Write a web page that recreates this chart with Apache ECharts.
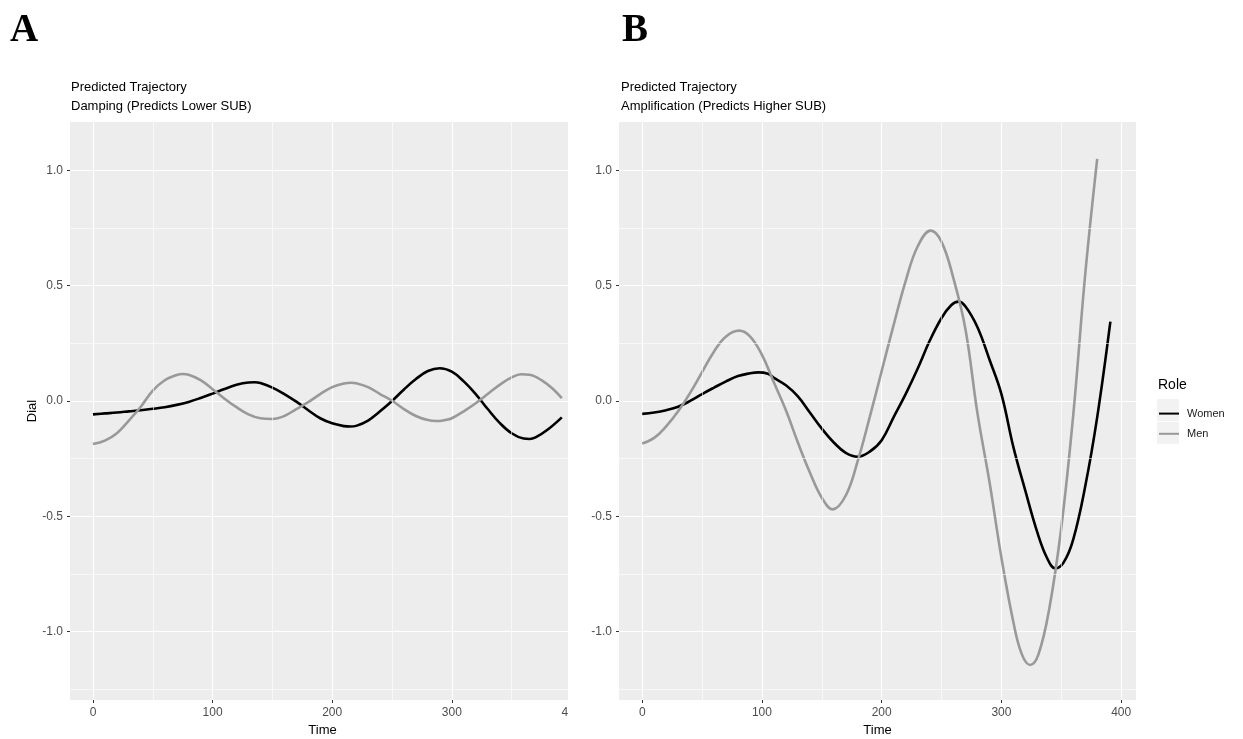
<!DOCTYPE html>
<html><head><meta charset="utf-8">
<script src="https://cdn.jsdelivr.net/npm/echarts@6/dist/echarts.min.js"></script>
<style>html,body{margin:0;padding:0;background:#fff}#c{width:1243px;height:739px}</style>
</head><body><div id="c"></div>
<script>
// ---- data ----
const timeTicks = [0, 100, 200, 300, 400];
const dialTicks = [-1.0, -0.5, 0.0, 0.5, 1.0];
const minorTime = [50, 150, 250, 350];
const minorDial = [-1.25, -0.75, -0.25, 0.25, 0.75];
const seriesNames = ['Women', 'Men'];

// Panel A: Damping
const timeAWomen = [0, 10, 20, 30, 40, 50, 60, 70, 80, 90, 100, 110, 120, 130, 135, 140, 150, 160, 170, 180, 190, 200, 210, 215, 220, 230, 240, 250, 260, 270, 280, 290, 300, 310, 320, 330, 340, 350, 360, 365, 370, 380, 392];
const dialAWomen = [-0.058, -0.054, -0.05, -0.045, -0.04, -0.034, -0.027, -0.017, -0.004, 0.013, 0.032, 0.052, 0.07, 0.08, 0.081, 0.078, 0.058, 0.03, -0.003, -0.04, -0.075, -0.097, -0.109, -0.111, -0.108, -0.085, -0.045, 0.0, 0.05, 0.095, 0.13, 0.142, 0.127, 0.085, 0.03, -0.035, -0.095, -0.14, -0.163, -0.165, -0.158, -0.125, -0.071];
const timeAMen = [0, 10, 20, 30, 40, 50, 60, 70, 75, 80, 90, 100, 110, 120, 130, 140, 150, 160, 170, 180, 190, 200, 210, 216, 220, 230, 240, 250, 260, 270, 280, 287, 295, 300, 310, 320, 330, 340, 350, 358, 365, 375, 385, 392];
const dialAMen = [-0.187, -0.172, -0.14, -0.085, -0.025, 0.045, 0.09, 0.113, 0.117, 0.114, 0.09, 0.051, 0.01, -0.027, -0.058, -0.075, -0.078, -0.065, -0.035, -0.005, 0.03, 0.06, 0.076, 0.079, 0.077, 0.06, 0.03, 0.001, -0.035, -0.065, -0.083, -0.087, -0.082, -0.075, -0.045, -0.01, 0.03, 0.07, 0.102, 0.116, 0.114, 0.09, 0.05, 0.012];

// Panel B: Amplification
const timeBWomen = [0, 10, 20, 30, 40, 50, 60, 70, 80, 90, 97, 105, 110, 120, 130, 140, 150, 160, 170, 180, 190, 200, 210, 220, 230, 240, 250, 258, 264, 270, 280, 290, 300, 310, 320, 330, 338, 345, 352, 360, 370, 380, 391];
const dialBWomen = [-0.056, -0.05, -0.04, -0.025, 0.0, 0.03, 0.058, 0.085, 0.108, 0.12, 0.124, 0.118, 0.1, 0.068, 0.02, -0.05, -0.12, -0.18, -0.225, -0.242, -0.22, -0.17, -0.07, 0.03, 0.14, 0.26, 0.36, 0.415, 0.431, 0.41, 0.32, 0.18, 0.03, -0.2, -0.39, -0.57, -0.68, -0.726, -0.7, -0.6, -0.37, -0.07, 0.344];
const timeBMen = [0, 10, 20, 30, 40, 50, 60, 70, 81, 90, 100, 110, 120, 130, 140, 150, 159, 170, 180, 190, 200, 210, 220, 230, 241, 250, 260, 270, 280, 290, 300, 310, 317, 324, 331, 340, 350, 360, 370, 380];
const dialBMen = [-0.184, -0.16, -0.11, -0.045, 0.035, 0.125, 0.215, 0.28, 0.305, 0.28, 0.2, 0.08, -0.04, -0.18, -0.31, -0.42, -0.47, -0.41, -0.26, -0.07, 0.13, 0.33, 0.52, 0.67, 0.739, 0.69, 0.53, 0.31, -0.054, -0.35, -0.68, -0.96, -1.098, -1.145, -1.098, -0.9, -0.55, -0.06, 0.55, 1.05];

const panelTitles = ['Predicted Trajectory\nDamping (Predicts Lower SUB)', 'Predicted Trajectory\nAmplification (Predicts Higher SUB)'];
const panelLetters = ['A', 'B'];

// ---- chart ----
const pair = (t, v) => t.map((x, i) => [x, v[i]]);
const colors = {Women: '#000000', Men: '#999999'};
const FONT = 'Liberation Sans';

function xAxisDef(idx, min, max) {
  return {
    type: 'value', gridIndex: idx, min: min, max: max,
    name: 'Time', nameLocation: 'middle', nameGap: 23,
    nameTextStyle: {color: '#000', fontSize: 13, fontFamily: FONT},
    axisLine: {show: false, onZero: false},
    axisTick: {show: true, length: 3, lineStyle: {color: '#333', width: 1}, customValues: timeTicks},
    axisLabel: {color: '#4d4d4d', fontSize: 12, fontFamily: FONT, margin: 7, customValues: timeTicks},
    splitLine: {show: true, lineStyle: {color: '#ffffff', width: 1.2}}
  };
}
function yAxisDef(idx) {
  return {
    type: 'value', gridIndex: idx, min: -1.297, max: 1.21,
    name: 'Dial', nameLocation: 'middle', nameGap: 30, nameRotate: 90,
    nameTextStyle: {color: '#000', fontSize: 13, fontFamily: FONT},
    axisLine: {show: false, onZero: false},
    axisTick: {show: true, length: 3, lineStyle: {color: '#333', width: 1}, customValues: dialTicks},
    axisLabel: {color: '#4d4d4d', fontSize: 12, fontFamily: FONT, margin: 7, customValues: dialTicks,
      formatter: v => Number(v).toFixed(1)},
    splitLine: {show: true, lineStyle: {color: '#ffffff', width: 1.2}}
  };
}
function gridLines(idx) {
  return {
    type: 'line', name: '_grid' + idx, xAxisIndex: idx, yAxisIndex: idx, data: [], silent: true, z: 1,
    markLine: {
      silent: true, symbol: ['none', 'none'], label: {show: false}, animation: false,
      lineStyle: {color: '#ffffff', width: 0.6, type: 'solid'},
      data: minorDial.map(v => ({yAxis: v})).concat(minorTime.map(v => ({xAxis: v})))
    }
  };
}
function lineSeries(name, idx, t, v) {
  return {
    type: 'line', name: name, xAxisIndex: idx, yAxisIndex: idx,
    data: pair(t, v), smooth: 0.4, symbol: 'none', z: 3,
    lineStyle: {color: colors[name], width: 2.6}, itemStyle: {color: colors[name]}
  };
}

const chart = echarts.init(document.getElementById('c'), null, {renderer: 'canvas'});
chart.setOption({
  animation: false,
  backgroundColor: '#ffffff',
  title: [
    {text: panelLetters[0], left: 5, top: 6, textStyle: {fontFamily: 'Liberation Serif', fontWeight: 'bold', fontSize: 39, color: '#000'}},
    {text: panelLetters[1], left: 617, top: 6, textStyle: {fontFamily: 'Liberation Serif', fontWeight: 'bold', fontSize: 39, color: '#000'}},
    {text: panelTitles[0], left: 66, top: 73, textStyle: {fontFamily: FONT, fontWeight: 'normal', fontSize: 13, lineHeight: 19, color: '#000'}},
    {text: panelTitles[1], left: 616, top: 73, textStyle: {fontFamily: FONT, fontWeight: 'normal', fontSize: 13, lineHeight: 19, color: '#000'}},
    {text: 'Role', left: 1153, top: 373, textStyle: {fontFamily: FONT, fontWeight: 'normal', fontSize: 14, color: '#000'}}
  ],
  grid: [
    {left: 70, top: 122, width: 505, height: 578, show: true, backgroundColor: '#ededed', borderWidth: 0, outerBoundsMode: 'none'},
    {left: 619, top: 122, width: 517, height: 578, show: true, backgroundColor: '#ededed', borderWidth: 0, outerBoundsMode: 'none'}
  ],
  xAxis: [xAxisDef(0, -19.2, 403), xAxisDef(1, -19.4, 412.4)],
  yAxis: [yAxisDef(0), yAxisDef(1)],
  legend: {
    data: seriesNames, orient: 'vertical', left: 1153, top: 403, itemWidth: 20, itemHeight: 14, itemGap: 9,
    itemStyle: {opacity: 0},
    textStyle: {fontFamily: FONT, fontSize: 11, color: '#1a1a1a', padding: [0, 0, 0, 3]}, selectedMode: false
  },
  graphic: [
    {type: 'rect', left: 568, top: 110, shape: {width: 17, height: 620}, style: {fill: '#ffffff'}, z: 50, silent: true},
    {type: 'rect', left: 1157, top: 399, shape: {width: 22, height: 22}, style: {fill: '#f2f2f2'}, z: 0, silent: true},
    {type: 'rect', left: 1157, top: 422, shape: {width: 22, height: 22}, style: {fill: '#f2f2f2'}, z: 0, silent: true}
  ],
  series: [
    gridLines(0), gridLines(1),
    lineSeries('Women', 0, timeAWomen, dialAWomen),
    lineSeries('Men', 0, timeAMen, dialAMen),
    lineSeries('Women', 1, timeBWomen, dialBWomen),
    lineSeries('Men', 1, timeBMen, dialBMen)
  ]
});
</script>
</body></html>
